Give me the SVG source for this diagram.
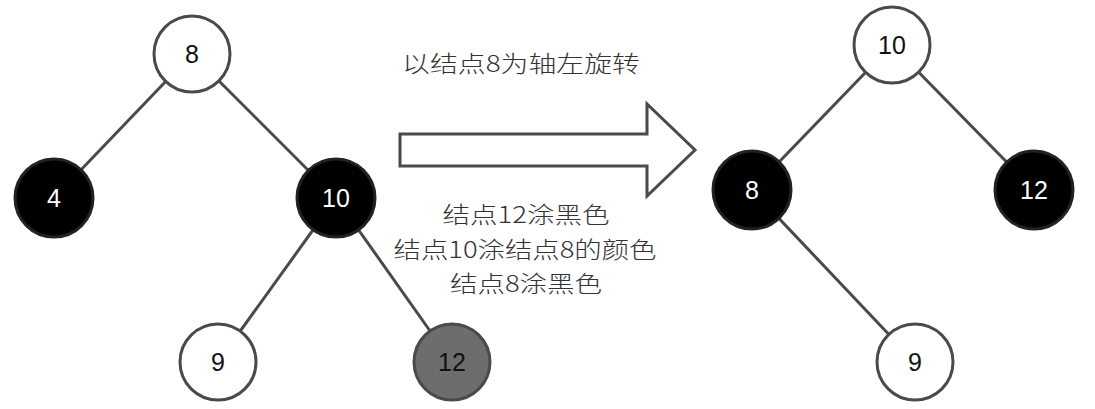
<svg xmlns="http://www.w3.org/2000/svg" width="1095" height="409" viewBox="0 0 1095 409">
<style>
.e{stroke:#4a4a4a;stroke-width:3;fill:none}
.w{fill:#fff;stroke:#4a4a4a;stroke-width:3}
.b{fill:#000;stroke:#222;stroke-width:3}
.g{fill:#6d6d6d;stroke:#4a4a4a;stroke-width:3}
.lw{font-family:"Liberation Sans",Arial,sans-serif;font-size:25px;fill:#111;text-anchor:middle}
.lb{font-family:"Liberation Sans",Arial,sans-serif;font-size:25px;fill:#fff;text-anchor:middle}
.t{font-family:"Noto Sans CJK SC","Liberation Sans",sans-serif;font-size:23px;font-weight:300;fill:#333;text-anchor:middle}
</style>
<rect width="1095" height="409" fill="#fff"/>
<g id="connectors">
<line class="e" x1="192" y1="54" x2="54" y2="198"/>
<line class="e" x1="192" y1="54" x2="336" y2="198"/>
<line class="e" x1="336" y1="198" x2="218" y2="362"/>
<line class="e" x1="336" y1="198" x2="452" y2="362"/>
<line class="e" x1="892" y1="45" x2="752" y2="190"/>
<line class="e" x1="892" y1="45" x2="1034" y2="190"/>
<line class="e" x1="752" y1="190" x2="915" y2="362"/>
</g>
<g id="L8"><circle class="w" cx="192" cy="54" r="38"/><text class="lw" x="192" y="63">8</text></g>
<g id="L4"><circle class="b" cx="54" cy="198" r="39"/><text class="lb" x="54" y="207">4</text></g>
<g id="L10"><circle class="b" cx="336" cy="198" r="39"/><text class="lb" x="336" y="207">10</text></g>
<g id="L9"><circle class="w" cx="218" cy="362" r="38"/><text class="lw" x="218" y="371">9</text></g>
<g id="L12"><circle class="g" cx="452" cy="362" r="38"/><text class="lw" x="452" y="371">12</text></g>
<g id="R10"><circle class="w" cx="892" cy="45" r="38"/><text class="lw" x="892" y="54">10</text></g>
<g id="R8"><circle class="b" cx="752" cy="190" r="39"/><text class="lb" x="752" y="199">8</text></g>
<g id="R12"><circle class="b" cx="1034" cy="190" r="39"/><text class="lb" x="1034" y="199">12</text></g>
<g id="R9"><circle class="w" cx="915" cy="362" r="38"/><text class="lw" x="915" y="371">9</text></g>
<g id="arrow"><polygon points="400,134 647,134 647,104 695,150 647,196 647,166 400,166" fill="#fff" stroke="#4a4a4a" stroke-width="3"/></g>
<g id="labels">
<text class="t" x="521" y="72" textLength="238" lengthAdjust="spacingAndGlyphs">以结点8为轴左旋转</text>
<text class="t" x="526" y="223" textLength="167" lengthAdjust="spacingAndGlyphs">结点12涂黑色</text>
<text class="t" x="525" y="258" textLength="263" lengthAdjust="spacingAndGlyphs">结点10涂结点8的颜色</text>
<text class="t" x="526" y="292" textLength="152" lengthAdjust="spacingAndGlyphs">结点8涂黑色</text>
</g>
</svg>
